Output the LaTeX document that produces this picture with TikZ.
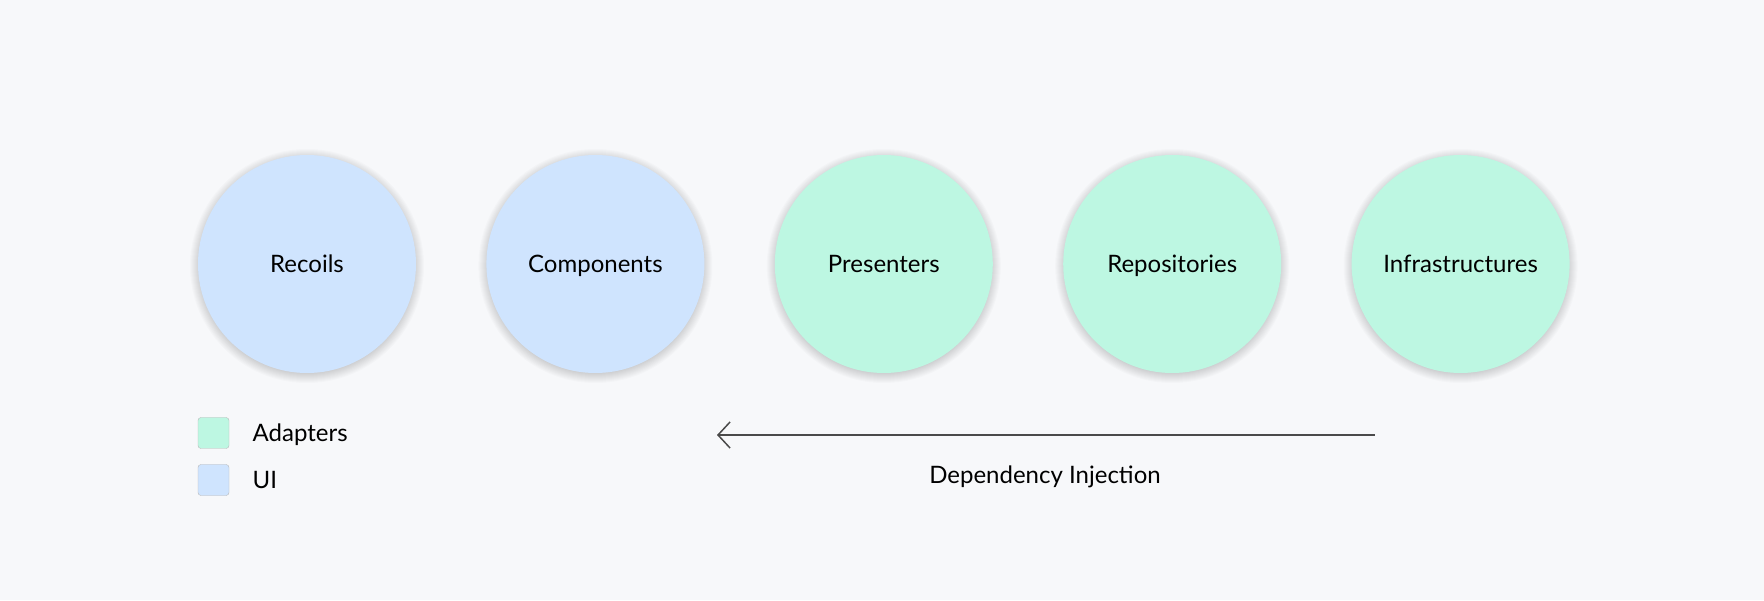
\documentclass[tikz,border=0pt]{standalone}
\usepackage{fontspec}
\setmainfont{Lato}
\usetikzlibrary{arrows.meta, positioning, backgrounds}
\definecolor{fondo}{HTML}{F7F8FA}
\definecolor{azulUI}{HTML}{CFE4FE}
\definecolor{verdeAd}{HTML}{BDF7E2}
\definecolor{gris}{HTML}{4A4A4A}

\begin{document}
\begin{tikzpicture}[
				x=1pt, y=1pt,
				node distance=70pt and 70pt,
				font=\fontsize{24}{28}\selectfont,
				% --- Styles ---
				etiqueta/.style={
					text height=20pt,
					text depth=3pt
				},
				capa/.style={
					etiqueta,
					circle,
					minimum size=218pt,
					inner sep=0pt,
					text centered
				},
				sombra/.style={
					fill=black,
					opacity=0.014
				},
				muestra/.style={
					draw=black!28,
					rectangle,
					rounded corners=3pt,
					minimum size=31pt,
					inner sep=0pt
				},
				flecha_di/.style={
					{Straight Barb[length=12pt, width=26pt, line width=1.5pt]}-,
					line width=1.6pt,
					gris
				}
				]
				% 1. Layers, left to right
				\node[capa, fill=azulUI] (recoils) at (307,336) {Recoils};
				\node[capa, fill=azulUI, right=of recoils] (components) {Components};
				\node[capa, fill=verdeAd, right=of components] (presenters) {Presenters};
				\node[capa, fill=verdeAd, right=of presenters] (repositories) {Repositories};
				\node[capa, fill=verdeAd, right=of repositories] (infra) {Infrastructures};
				
				% 0. Background, margins and soft shadows behind the layers
				\begin{scope}[on background layer]
					\fill[fondo] (0,0) rectangle (1764,600);
					\foreach \capa in {recoils, components, presenters, repositories, infra}
					\foreach \r in {1,...,10}
					\fill[sombra] ([yshift=-2pt]\capa.center) circle (107+\r);
				\end{scope}
				\useasboundingbox (0,0) rectangle (1764,600);
				
				% 2. Legend
				\node[muestra, fill=verdeAd] (ley_ad) at (213.5,167) {};
				\node[muestra, fill=azulUI] (ley_ui) at (213.5,120) {};
				\node[etiqueta, right=20pt of ley_ad] (txt_ad) {Adapters};
				\node[etiqueta, right=20pt of ley_ui] (txt_ui) {UI};
				
				% 3. Dependency injection arrow
				\coordinate (di_fin) at (717,165);
				\coordinate (di_ini) at (1375,165);
				\draw[flecha_di] (di_fin) -- (di_ini);
				\node[etiqueta] (di_txt) at (1045,125) {Dependency Injection};
				
			\end{tikzpicture}
\end{document}
